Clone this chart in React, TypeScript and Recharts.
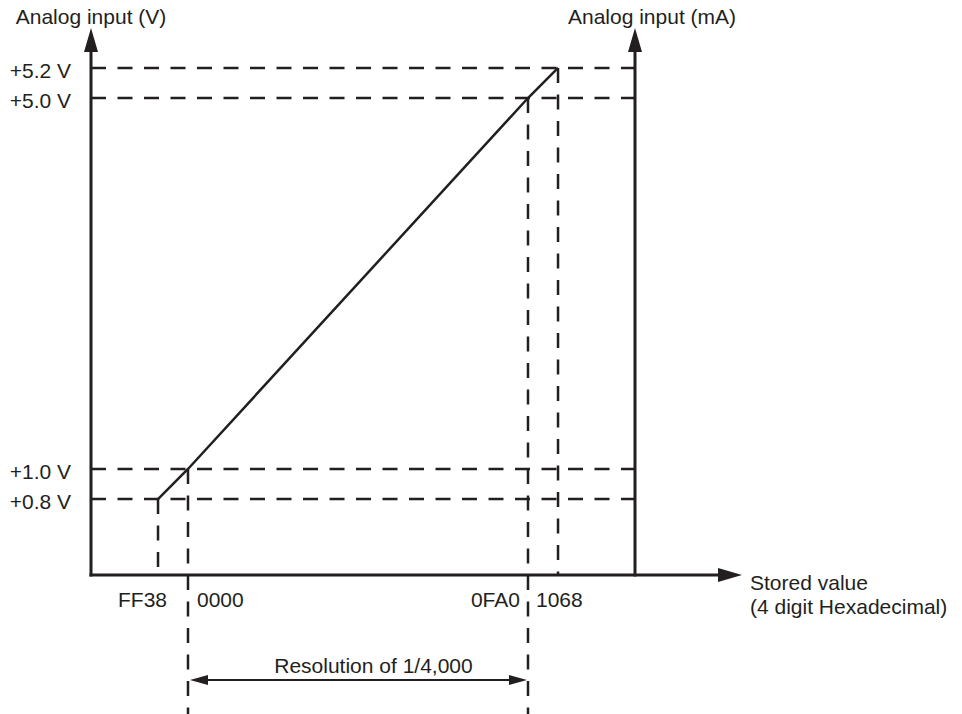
import React from 'react';
import { LineChart, Line, XAxis, YAxis, ReferenceLine } from 'recharts';

// stored value (signed 16 bit) against the analog input it stands for
const STORED_VALUES = [-200, 0, 4000, 4200]; // FF38, 0000, 0FA0, 1068
const VOLTAGES = [0.8, 1.0, 5.0, 5.2];
const CURRENTS = [3.2, 4.0, 20.0, 20.8];

const X_DOMAIN = [-650, 4800];
const V_DOMAIN = [0, 5.6];
const MA_DOMAIN = [0, 22.4];

// the drawing is schematic, not to scale: where each value sits along its axis (0..1)
const X_LAYOUT = [0.1232, 0.1783, 0.8033, 0.8585];
const Y_LAYOUT = [0.1389, 0.1938, 0.872, 0.9269];

const INK = '#231f20';
const FONT = '"Liberation Sans", Arial, Helvetica, sans-serif';
const DASH = '15 11.5';

const data = STORED_VALUES.map((stored, i) => ({ stored, volt: VOLTAGES[i] }));

// piecewise linear scale through the knots, d3-like so recharts can copy() it
const knotScale = (values: number[], fracs: number[]): any => {
  let dom = [values[0], values[values.length - 1]];
  let rng = [0, 1];
  const scale: any = (v: number) => {
    let i = 0;
    while (i < values.length - 2 && v > values[i + 1]) i++;
    const t = (v - values[i]) / (values[i + 1] - values[i]);
    const f = fracs[i] + t * (fracs[i + 1] - fracs[i]);
    return rng[0] + f * (rng[1] - rng[0]);
  };
  scale.domain = (d?: number[]) => {
    if (!d) return dom;
    dom = d;
    return scale;
  };
  scale.range = (r?: number[]) => {
    if (!r) return rng;
    rng = r;
    return scale;
  };
  scale.copy = () => knotScale(values, fracs).domain(dom).range(rng);
  scale.ticks = () => values.slice(1, -1);
  return scale;
};

const xScale = knotScale([X_DOMAIN[0], ...STORED_VALUES, X_DOMAIN[1]], [0, ...X_LAYOUT, 1]);
const vScale = knotScale([V_DOMAIN[0], ...VOLTAGES, V_DOMAIN[1]], [0, ...Y_LAYOUT, 1]);
const maScale = knotScale([MA_DOMAIN[0], ...CURRENTS, MA_DOMAIN[1]], [0, ...Y_LAYOUT, 1]);

const hex = (v: number) => (v & 0xffff).toString(16).toUpperCase().padStart(4, '0');

const txt = { fontSize: 21, fill: INK, fontFamily: FONT };

const X_TICK_ANCHOR = ['end', 'start', 'end', 'start'];
const X_TICK_DX = [9, 9, -8, -22];

const HexTick = (p: any) => {
  const i = STORED_VALUES.indexOf(p.payload.value);
  return (
    <text x={p.x + X_TICK_DX[i]} y={p.y + 32} textAnchor={X_TICK_ANCHOR[i]} {...txt}>
      {hex(p.payload.value)}
    </text>
  );
};

const VoltTick = (p: any) => (
  <text x={p.x} y={p.y + 10} textAnchor="end" {...txt}>{`+${p.payload.value.toFixed(1)} V`}</text>
);

const CurrentTick = (p: any) => (
  <text x={p.x} y={p.y + 10} textAnchor="start" {...txt}>{`+${p.payload.value.toFixed(1)} mA`}</text>
);

const verticalAxis = (label: string, dx: number) => (p: any) => {
  const top = Math.min(p.y1, p.y2);
  const bottom = Math.max(p.y1, p.y2);
  return (
    <g>
      <line x1={p.x1} x2={p.x1} y1={bottom + 1.5} y2={top + 20} stroke={INK} strokeWidth={3} />
      <polygon points={`${p.x1},${top} ${p.x1 - 7},${top + 24} ${p.x1 + 7},${top + 24}`} fill={INK} />
      <text x={p.x1 + dx} y={top - 4} textAnchor="middle" {...txt}>{label}</text>
    </g>
  );
};

const horizontalAxis = (p: any) => {
  const left = Math.min(p.x1, p.x2);
  const tip = Math.max(p.x1, p.x2) + 107;
  const y = p.y1;
  return (
    <g>
      <line x1={left - 1.5} x2={tip - 20} y1={y} y2={y} stroke={INK} strokeWidth={3} />
      <polygon points={`${tip},${y} ${tip - 24},${y - 7} ${tip - 24},${y + 7}`} fill={INK} />
      <text x={tip + 8} y={y + 15} {...txt}>Stored value</text>
      <text x={tip + 8} y={y + 39} {...txt}>(4 digit Hexadecimal)</text>
    </g>
  );
};

const guide = (extend: number) => (p: any) => {
  const top = Math.min(p.y1, p.y2);
  const bottom = Math.max(p.y1, p.y2) + extend;
  return <line x1={p.x1} x2={p.x1} y1={top} y2={bottom} stroke={INK} strokeWidth={2.5} strokeDasharray={DASH} />;
};

const resolution = (p: any) => {
  const a = Math.min(p.x1, p.x2) + 2;
  const b = Math.max(p.x1, p.x2) - 1;
  const y = p.y1 + 105;
  const span = (STORED_VALUES[2] - STORED_VALUES[1]).toLocaleString('en-US');
  return (
    <g>
      <line x1={a + 14} x2={b - 14} y1={y} y2={y} stroke={INK} strokeWidth={2} />
      <polygon points={`${a},${y} ${a + 18},${y - 5} ${a + 18},${y + 5}`} fill={INK} />
      <polygon points={`${b},${y} ${b - 18},${y - 5} ${b - 18},${y + 5}`} fill={INK} />
      <text x={(a + b) / 2 + 15} y={y - 7} textAnchor="middle" {...txt}>{`Resolution of 1/${span}`}</text>
    </g>
  );
};

export default function App() {
  return (
    <div style={{ position: 'absolute', left: 0, top: 0, background: '#fff' }}>
      <LineChart width={962} height={714} data={data} margin={{ top: 28, right: 207, bottom: 99, left: 0 }}>
        <XAxis
          dataKey="stored"
          type="number"
          domain={X_DOMAIN}
          scale={xScale}
          ticks={STORED_VALUES}
          interval={0}
          height={40}
          axisLine={false}
          tickLine={false}
          tickSize={0}
          tickMargin={0}
          tick={<HexTick />}
        />
        <YAxis
          yAxisId="v"
          type="number"
          domain={V_DOMAIN}
          scale={vScale}
          ticks={VOLTAGES}
          interval={0}
          width={91}
          axisLine={false}
          tickLine={false}
          tickSize={0}
          tickMargin={20}
          tick={<VoltTick />}
        />
        <YAxis
          yAxisId="ma"
          orientation="right"
          type="number"
          domain={MA_DOMAIN}
          scale={maScale}
          ticks={CURRENTS}
          interval={0}
          width={120}
          axisLine={false}
          tickLine={false}
          tickSize={0}
          tickMargin={8}
          tick={<CurrentTick />}
        />

        {VOLTAGES.map((v) => (
          <ReferenceLine
            key={`h-${v}`}
            yAxisId="v"
            y={v}
            stroke={INK}
            strokeWidth={2.5}
            strokeDasharray={DASH}
            ifOverflow="visible"
          />
        ))}
        {data.map((d, i) => (
          <ReferenceLine
            key={`g-${d.stored}`}
            yAxisId="v"
            segment={[
              { x: d.stored, y: d.volt },
              { x: d.stored, y: V_DOMAIN[0] },
            ]}
            ifOverflow="visible"
            shape={guide(i === 1 || i === 2 ? 139 : 0)}
          />
        ))}
        <ReferenceLine
          yAxisId="v"
          segment={[
            { x: STORED_VALUES[1], y: V_DOMAIN[0] },
            { x: STORED_VALUES[2], y: V_DOMAIN[0] },
          ]}
          ifOverflow="visible"
          shape={resolution}
        />

        <ReferenceLine yAxisId="v" x={X_DOMAIN[0]} ifOverflow="visible" shape={verticalAxis('Analog input (V)', 0)} />
        <ReferenceLine yAxisId="v" x={X_DOMAIN[1]} ifOverflow="visible" shape={verticalAxis('Analog input (mA)', 17)} />
        <ReferenceLine yAxisId="v" y={V_DOMAIN[0]} ifOverflow="visible" shape={horizontalAxis} />

        <Line
          yAxisId="v"
          dataKey="volt"
          type="linear"
          stroke={INK}
          strokeWidth={2.5}
          dot={false}
          isAnimationActive={false}
        />
      </LineChart>
    </div>
  );
}
